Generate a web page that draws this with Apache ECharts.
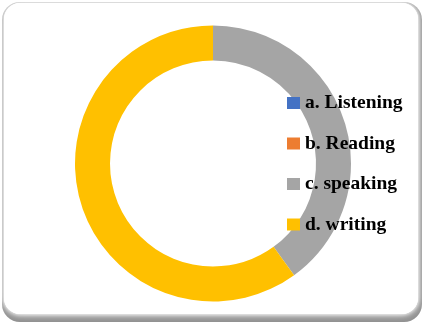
<!DOCTYPE html>
<html>
<head>
<meta charset="utf-8">
<style>
  html, body { margin: 0; padding: 0; background: #ffffff; }
  #chart { width: 425px; height: 325px; }
</style>
<script src="https://cdn.jsdelivr.net/npm/echarts@6/dist/echarts.min.js"></script>
</head>
<body>
<div id="chart"></div>
<script>
// Skill categories and their share of responses
const categories = ['a. Listening', 'b. Reading', 'c. speaking', 'd. writing'];
const values = [0, 0, 40, 60];
const colors = ['#4472C4', '#ED7D31', '#A5A5A5', '#FFC000'];

const chart = echarts.init(document.getElementById('chart'), null, { renderer: 'canvas' });

const pieData = categories.map((name, i) => ({
  name: name,
  value: values[i],
  itemStyle: { color: colors[i] }
}));

chart.setOption({
  animation: false,
  backgroundColor: '#ffffff',
  graphic: [
    // bevelled rounded frame: grey base with a soft white panel on top
    {
      type: 'rect', z: -10, silent: true,
      shape: { x: 2, y: 2, width: 420, height: 320, r: 18 },
      style: { fill: '#8f8f8f' }
    },
    {
      type: 'rect', z: -9, silent: true,
      shape: { x: 4, y: 3, width: 414, height: 311, r: 16 },
      style: { fill: '#ffffff', shadowBlur: 8, shadowColor: '#ffffff' }
    },
    {
      type: 'rect', z: -8, silent: true,
      shape: { x: 4, y: 3, width: 414, height: 311, r: 16 },
      style: { fill: '#ffffff', shadowBlur: 4, shadowColor: '#ffffff' }
    }
  ],
  legend: {
    orient: 'vertical',
    left: 287,
    top: 93,
    padding: 0,
    itemWidth: 13,
    itemHeight: 12,
    itemGap: 20.5,
    icon: 'rect',
    selectedMode: false,
    data: categories,
    textStyle: {
      fontFamily: 'Liberation Serif',
      fontWeight: 'bold',
      fontSize: 19.5,
      lineHeight: 20,
      color: '#000000'
    }
  },
  series: [{
    type: 'pie',
    center: [213, 163.5],
    radius: [103, 138],
    startAngle: 90,
    clockwise: true,
    avoidLabelOverlap: false,
    label: { show: false },
    labelLine: { show: false },
    emphasis: { disabled: true },
    itemStyle: { borderWidth: 0 },
    data: pieData
  }]
});
</script>
</body>
</html>
